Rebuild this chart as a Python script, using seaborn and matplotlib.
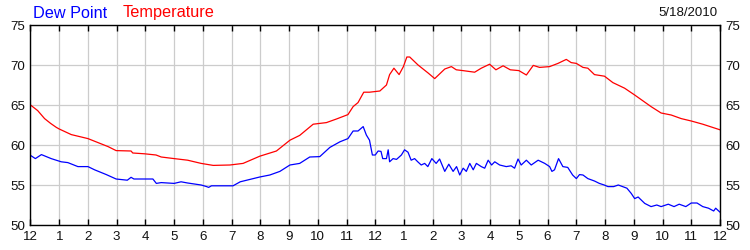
import matplotlib
matplotlib.use("Agg")
import matplotlib.pyplot as plt
import seaborn as sns
import pandas as pd

# Hours since midnight and temperature readings (F)
temp_hours = [0, 0.25, 0.49, 0.7, 0.9, 1.0, 1.42, 2.0, 2.35, 2.7, 2.98, 3.5, 3.56, 3.97,
              4.37, 4.55, 5.0, 5.47, 5.94, 6.36, 6.94, 7.4, 7.98, 8.56, 9.03, 9.37, 9.84,
              10.3, 10.65, 11.05, 11.23, 11.4, 11.6, 11.8, 12.16, 12.39, 12.5, 12.65, 12.83,
              12.98, 13.1, 13.2, 13.49, 13.84, 14.07, 14.42, 14.65, 14.82, 15.05, 15.46,
              15.69, 15.98, 16.2, 16.45, 16.7, 17.0, 17.26, 17.5, 17.72, 18.07, 18.36,
              18.65, 18.82, 19.0, 19.23, 19.4, 19.63, 19.98, 20.27, 20.68, 21.03, 21.6,
              21.95, 22.3, 22.65, 23.0, 23.4, 24.0]
temp_values = [65.0, 64.3, 63.3, 62.7, 62.2, 62.0, 61.3, 60.8, 60.3, 59.8, 59.3, 59.25, 59.0,
               58.9, 58.75, 58.5, 58.3, 58.1, 57.7, 57.45, 57.5, 57.7, 58.6, 59.25, 60.6,
               61.2, 62.6, 62.8, 63.25, 63.8, 64.8, 65.3, 66.6, 66.6, 66.75, 67.5, 68.8,
               69.6, 68.8, 69.8, 71.0, 71.0, 70.0, 69.0, 68.3, 69.5, 69.8, 69.4, 69.3,
               69.1, 69.6, 70.1, 69.4, 69.9, 69.4, 69.3, 68.75, 69.95, 69.7, 69.8, 70.2,
               70.7, 70.3, 70.2, 69.7, 69.6, 68.8, 68.6, 67.8, 67.1, 66.25, 64.8, 64.0,
               63.75, 63.3, 63.0, 62.6, 61.9]

# Hours since midnight and dew point readings (F)
dew_hours = [0, 0.17, 0.38, 0.55, 0.72, 1.07, 1.3, 1.65, 2.0, 2.23, 2.64, 2.98, 3.37, 3.5,
             3.6, 4.26, 4.38, 4.55, 5.0, 5.24, 5.47, 5.94, 6.13, 6.2, 6.3, 7.05, 7.3, 7.98,
             8.33, 8.68, 9.03, 9.37, 9.72, 10.07, 10.42, 10.77, 11.05, 11.23, 11.4, 11.58,
             11.69, 11.8, 11.9, 12.0, 12.1, 12.2, 12.26, 12.39, 12.45, 12.5, 12.62, 12.74,
             12.91, 13.02, 13.14, 13.25, 13.37, 13.48, 13.6, 13.72, 13.83, 13.97, 14.12,
             14.24, 14.42, 14.56, 14.71, 14.83, 14.94, 15.06, 15.17, 15.29, 15.41, 15.52,
             15.69, 15.81, 15.93, 16.05, 16.16, 16.33, 16.56, 16.73, 16.85, 16.97, 17.08,
             17.26, 17.43, 17.67, 17.9, 18.07, 18.15, 18.24, 18.38, 18.53, 18.7, 18.87,
             19.0, 19.11, 19.23, 19.4, 19.63, 19.8, 19.97, 20.1, 20.3, 20.46, 20.76, 20.91,
             21.03, 21.15, 21.38, 21.6, 21.8, 21.95, 22.2, 22.4, 22.58, 22.81, 23.0, 23.2,
             23.4, 23.6, 23.78, 23.85, 24.0]
dew_values = [58.7, 58.3, 58.8, 58.55, 58.3, 57.9, 57.8, 57.3, 57.3, 56.9, 56.3, 55.75, 55.6,
              55.96, 55.75, 55.75, 55.2, 55.3, 55.2, 55.4, 55.25, 55.0, 54.8, 54.7, 54.9,
              54.9, 55.4, 56.0, 56.25, 56.7, 57.5, 57.7, 58.5, 58.55, 59.7, 60.4, 60.8,
              61.75, 61.75, 62.3, 61.25, 60.6, 58.75, 58.75, 59.25, 59.2, 58.3, 58.3, 59.4,
              57.9, 58.3, 58.2, 58.75, 59.4, 59.1, 58.1, 58.3, 57.9, 57.5, 57.7, 57.3, 58.3,
              57.7, 58.25, 56.7, 57.6, 56.7, 57.3, 56.25, 57.1, 56.7, 57.7, 56.9, 57.7, 57.3,
              57.1, 58.1, 57.5, 57.9, 57.5, 57.3, 57.4, 57.1, 58.25, 57.5, 58.1, 57.5, 58.1,
              57.7, 57.3, 56.7, 56.9, 58.3, 57.3, 57.2, 56.25, 55.8, 56.3, 56.25, 55.8, 55.5,
              55.2, 55.0, 54.8, 54.8, 55.0, 54.6, 53.95, 53.3, 53.5, 52.7, 52.3, 52.5, 52.3,
              52.6, 52.3, 52.6, 52.3, 52.75, 52.75, 52.3, 52.1, 51.75, 52.1, 51.6]

x_ticks = list(range(0, 25))
x_tick_labels = ["12", "1", "2", "3", "4", "5", "6", "7", "8", "9", "10", "11",
                 "12", "1", "2", "3", "4", "5", "6", "7", "8", "9", "10", "11", "12"]
y_ticks = [50, 55, 60, 65, 70, 75]
date_label = "5/18/2010"

sns.set_theme(style="white")
plt.rcParams["font.family"] = ["Liberation Sans", "DejaVu Sans"]

fig = plt.figure(figsize=(7.5, 2.5), dpi=100)
ax = fig.add_axes([30.5 / 750, 25 / 250, 689.5 / 750, 200 / 250])

temp_df = pd.DataFrame({"hour": temp_hours, "value": temp_values})
dew_df = pd.DataFrame({"hour": dew_hours, "value": dew_values})

sns.lineplot(data=temp_df, x="hour", y="value", ax=ax, color="#ff0000", linewidth=0.9)
sns.lineplot(data=dew_df, x="hour", y="value", ax=ax, color="#0000ff", linewidth=0.9)

ax.set_xlim(0, 24)
ax.set_ylim(50, 75)
ax.set_xticks(x_ticks)
ax.set_xticklabels(x_tick_labels)
ax.set_yticks(y_ticks)
ax.set_xlabel("")
ax.set_ylabel("")
ax.grid(True, color="#cccccc", linewidth=0.9)
ax.set_axisbelow(True)
for s in ax.spines.values():
    s.set_color("black")
    s.set_linewidth(1.0)
ax.tick_params(axis="x", which="both", direction="in", length=4, width=1, color="black",
               top=True, bottom=True, labelsize=9.6, pad=4, labelcolor="#111111")
ax.tick_params(axis="y", which="both", direction="in", length=0, left=True, right=True,
               labelleft=True, labelright=True, labelsize=9.6, pad=4, labelcolor="#111111")

fig.text(33 / 750, 1 - 13 / 250, "Dew Point", color="#0000ff", fontsize=11.7, va="center", ha="left")
fig.text(123 / 750, 1 - 13 / 250, "Temperature", color="#ff0000", fontsize=11.7, va="center", ha="left")
fig.text(718 / 750, 1 - 13 / 250, date_label, color="#111111", fontsize=9.5, va="center", ha="right")

fig.savefig("out.png", dpi=100)
